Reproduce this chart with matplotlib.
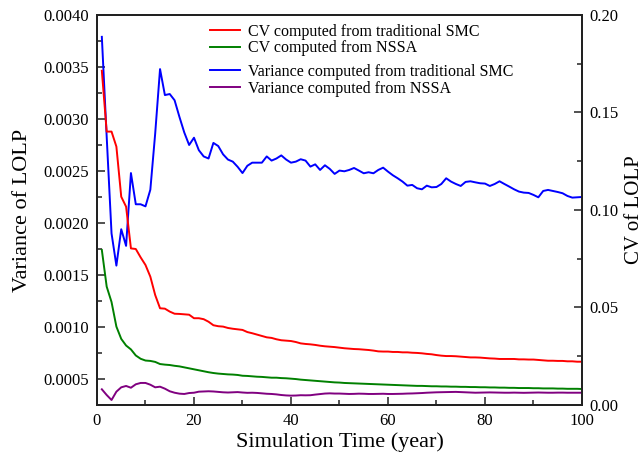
import matplotlib
matplotlib.use('Agg')
import matplotlib.pyplot as plt
from matplotlib.ticker import MultipleLocator, FormatStrFormatter

plt.rcParams.update({
    'font.family': 'Liberation Serif',
    'xtick.direction': 'in',
    'ytick.direction': 'in',
})

# simulation years 1..100
years = list(range(1, 101))

# CV of LOLP, traditional SMC (right axis)
cv_smc = [
    0.1714, 0.1402, 0.1402, 0.1325, 0.1068, 0.1017, 0.0803, 0.0800, 0.0757, 0.0718,
    0.0658, 0.0564, 0.0496, 0.0494, 0.0479, 0.0468, 0.0467, 0.0465, 0.0463, 0.0445,
    0.0445, 0.0440, 0.0427, 0.0409, 0.0404, 0.0402, 0.0395, 0.0391, 0.0388, 0.0385,
    0.0374, 0.0368, 0.0361, 0.0354, 0.0347, 0.0344, 0.0337, 0.0332, 0.0330, 0.0328,
    0.0323, 0.0316, 0.0313, 0.0311, 0.0308, 0.0304, 0.0301, 0.0299, 0.0297, 0.0294,
    0.0291, 0.0289, 0.0287, 0.0286, 0.0284, 0.0282, 0.0279, 0.0275, 0.0274, 0.0274,
    0.0272, 0.0272, 0.0270, 0.0270, 0.0268, 0.0267, 0.0265, 0.0262, 0.0260, 0.0256,
    0.0253, 0.0251, 0.0251, 0.0250, 0.0248, 0.0246, 0.0244, 0.0244, 0.0243, 0.0241,
    0.0239, 0.0238, 0.0236, 0.0236, 0.0236, 0.0236, 0.0234, 0.0234, 0.0233, 0.0233,
    0.0231, 0.0229, 0.0227, 0.0227, 0.0226, 0.0226, 0.0224, 0.0224, 0.0222, 0.0222,
]

# CV of LOLP, NSSA (right axis)
cv_nssa = [
    0.0795, 0.0607, 0.0528, 0.0402, 0.0339, 0.0305, 0.0285, 0.0254, 0.0237, 0.0228,
    0.0226, 0.0221, 0.0210, 0.0207, 0.0205, 0.0201, 0.0198, 0.0193, 0.0188, 0.0183,
    0.0178, 0.0173, 0.0168, 0.0164, 0.0161, 0.0159, 0.0157, 0.0156, 0.0154, 0.0150,
    0.0149, 0.0147, 0.0145, 0.0144, 0.0142, 0.0140, 0.0140, 0.0138, 0.0137, 0.0135,
    0.0133, 0.0130, 0.0128, 0.0126, 0.0124, 0.0122, 0.0120, 0.0118, 0.0116, 0.0115,
    0.0113, 0.0112, 0.0111, 0.0110, 0.0109, 0.0108, 0.0107, 0.0106, 0.0105, 0.0104,
    0.0103, 0.0102, 0.0101, 0.0100, 0.0099, 0.0098, 0.0098, 0.0097, 0.0096, 0.0096,
    0.0095, 0.0095, 0.0094, 0.0094, 0.0093, 0.0093, 0.0092, 0.0092, 0.0091, 0.0091,
    0.0090, 0.0090, 0.0089, 0.0089, 0.0088, 0.0088, 0.0087, 0.0087, 0.0087, 0.0086,
    0.0086, 0.0085, 0.0085, 0.0085, 0.0084, 0.0084, 0.0083, 0.0083, 0.0083, 0.0082,
]

# variance of LOLP, traditional SMC (left axis)
var_smc = [
    0.00379, 0.00283, 0.00190, 0.00159, 0.00194, 0.00178, 0.00248, 0.00218, 0.00218, 0.00216,
    0.00232, 0.00286, 0.00348, 0.00323, 0.00324, 0.00318, 0.00302, 0.00287, 0.00275, 0.00282,
    0.00270, 0.00264, 0.00262, 0.00277, 0.00274, 0.00266, 0.00261, 0.00259, 0.00254, 0.00248,
    0.00255, 0.00258, 0.00258, 0.00258, 0.00264, 0.00260, 0.00262, 0.00265, 0.00261, 0.00258,
    0.002590, 0.002613, 0.002600, 0.002542, 0.002564, 0.002510, 0.002555, 0.002520, 0.002472, 0.002504,
    0.002497, 0.002510, 0.002529, 0.002504, 0.002478, 0.002488, 0.002478, 0.002510, 0.002532, 0.002494,
    0.002459, 0.002430, 0.002398, 0.002359, 0.002366, 0.002334, 0.002324, 0.002359, 0.002343, 0.002346,
    0.002375, 0.002430, 0.002398, 0.002375, 0.002356, 0.002395, 0.002401, 0.002391, 0.002382, 0.002379,
    0.002356, 0.002375, 0.002401, 0.002375, 0.002350, 0.002324, 0.002302, 0.002292, 0.002289, 0.002270,
    0.002247, 0.002308, 0.002318, 0.002308, 0.002298, 0.002286, 0.002260, 0.002244, 0.002247, 0.002250,
]

# variance of LOLP, NSSA (left axis)
var_nssa = [
    0.000401, 0.000346, 0.000298, 0.000378, 0.000420, 0.000433, 0.000416, 0.000449, 0.000462, 0.000462,
    0.000445, 0.000420, 0.000426, 0.000407, 0.000382, 0.000368, 0.000359, 0.000356, 0.000365, 0.000368,
    0.000378, 0.000380, 0.000382, 0.000380, 0.000376, 0.000372, 0.000370, 0.000372, 0.000374, 0.000370,
    0.000367, 0.000368, 0.000366, 0.000362, 0.000358, 0.000356, 0.000352, 0.000346, 0.000342, 0.000340,
    0.000341, 0.000344, 0.000343, 0.000344, 0.000350, 0.000355, 0.000360, 0.000362, 0.000360, 0.000360,
    0.000358, 0.000356, 0.000357, 0.000359, 0.000358, 0.000356, 0.000356, 0.000357, 0.000358, 0.000356,
    0.000356, 0.000357, 0.000358, 0.000360, 0.000361, 0.000363, 0.000365, 0.000368, 0.000370, 0.000372,
    0.000373, 0.000374, 0.000375, 0.000376, 0.000374, 0.000372, 0.000370, 0.000368, 0.000369, 0.000370,
    0.000371, 0.000370, 0.000369, 0.000368, 0.000368, 0.000369, 0.000368, 0.000367, 0.000368, 0.000369,
    0.000370, 0.000369, 0.000368, 0.000368, 0.000369, 0.000369, 0.000368, 0.000368, 0.000368, 0.000368,
]

fig = plt.figure(figsize=(6.44, 4.57), dpi=100)
ax = fig.add_axes([0.1506, 0.1138, 0.7531, 0.8534])
ax2 = ax.twinx()

l_blue, = ax.plot(years, var_smc, color='#0000FF', lw=1.4,
                  label='Variance computed from traditional SMC')
l_purple, = ax.plot(years, var_nssa, color='#800080', lw=1.4,
                    label='Variance computed from NSSA')
l_red, = ax2.plot(years, cv_smc, color='#FF0000', lw=1.4,
                  label='CV computed from traditional SMC')
l_green, = ax2.plot(years, cv_nssa, color='#008000', lw=1.4,
                    label='CV computed from NSSA')

ax.set_xlim(0, 100)
ax.set_ylim(0.00025, 0.0040)
ax2.set_ylim(0.0, 0.20)

ax.xaxis.set_major_locator(MultipleLocator(20))
ax.xaxis.set_minor_locator(MultipleLocator(10))
ax.yaxis.set_major_locator(MultipleLocator(0.0005))
ax.yaxis.set_minor_locator(MultipleLocator(0.00025))
ax.yaxis.set_major_formatter(FormatStrFormatter('%.4f'))
ax2.yaxis.set_major_locator(MultipleLocator(0.05))
ax2.yaxis.set_minor_locator(MultipleLocator(0.025))
ax2.yaxis.set_major_formatter(FormatStrFormatter('%.2f'))

for a in (ax, ax2):
    a.tick_params(which='major', length=6, width=1.1, labelsize=12, color='#222222')
    a.tick_params(which='minor', length=3.5, width=1.1, color='#222222')
    for s in a.spines.values():
        s.set_linewidth(1.4)
        s.set_color('#222222')
ax.tick_params(axis='y', which='both', right=False)
ax.tick_params(axis='x', which='both', top=False, pad=6)
ax.tick_params(axis='y', pad=6)
ax2.tick_params(axis='y', pad=5)

ax.set_xlabel('Simulation Time (year)', fontsize=16, labelpad=2)
ax.set_ylabel('Variance of LOLP', fontsize=16, labelpad=8)
ax2.set_ylabel('CV of LOLP', fontsize=15, labelpad=5)

leg_kw = dict(frameon=False, fontsize=11.5, handlelength=1.9, handletextpad=0.45,
              labelspacing=0.05, borderpad=0, borderaxespad=0, loc='upper left')
leg1 = ax2.legend(handles=[l_red, l_green], bbox_to_anchor=(0.233, 0.978), **leg_kw)
ax2.add_artist(leg1)
ax2.legend(handles=[l_blue, l_purple], bbox_to_anchor=(0.233, 0.875), **leg_kw)

fig.savefig('out.png', dpi=100)
